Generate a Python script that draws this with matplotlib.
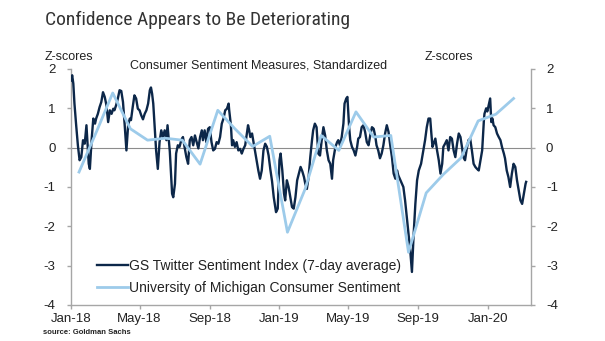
import matplotlib
matplotlib.use("Agg")
import matplotlib.pyplot as plt
import matplotlib.dates as mdates
from matplotlib import font_manager
import numpy as np
import pandas as pd

START = pd.Timestamp("2018-01-01")

# GS Twitter sentiment (7-day avg), z-scores, keyed by days since START
twitter_day = [
    0, 2, 4, 6, 9, 12, 15, 18, 21, 24, 27, 29, 31, 33, 36, 39, 42, 44, 47, 50,
    53, 56, 59, 62, 65, 68, 71, 74, 76, 79, 82, 85, 88, 91, 94, 97, 100, 103, 105, 108,
    111, 114, 117, 120, 123, 126, 129, 132, 135, 138, 140, 142, 144, 146, 149, 152, 155, 158, 161, 164,
    167, 169, 173, 175, 177, 179, 182, 184, 187, 190, 193, 196, 199, 202, 205, 208, 211, 214, 217, 220,
    223, 226, 229, 231, 234, 237, 240, 243, 246, 249, 252, 255, 258, 261, 264, 267, 270, 273, 276, 277,
    280, 282, 284, 287, 290, 293, 296, 299, 302, 305, 308, 310, 312, 314, 317, 320, 322, 325, 328, 331,
    334, 337, 340, 343, 346, 349, 352, 355, 359, 362, 365, 367, 370, 373, 375, 378, 381, 384, 387, 390,
    393, 396, 399, 402, 405, 408, 410, 413, 416, 419, 422, 424, 427, 430, 433, 436, 439, 442, 445, 448,
    451, 454, 457, 459, 463, 466, 468, 471, 474, 477, 479, 482, 484, 487, 489, 492, 495, 498, 501, 503,
    506, 509, 512, 515, 518, 521, 524, 527, 530, 533, 535, 538, 541, 544, 547, 550, 553, 556, 559, 562,
    565, 568, 571, 573, 576, 582, 585, 588, 591, 594, 597, 600, 603, 606, 609, 613, 617, 620, 623, 626,
    629, 631, 633, 635, 638, 641, 644, 647, 650, 652, 655, 658, 661, 664, 667, 670, 673, 676, 679, 682,
    685, 687, 690, 693, 696, 699, 702, 705, 708, 711, 714, 717, 720, 723, 724, 727, 729, 732, 734, 736,
    738, 740, 743, 746, 749, 752, 755, 758, 760, 763, 766, 769, 772, 775, 778, 781, 784, 787, 790, 793,
    796, 797,
]
twitter_z = [
    1.71, 1.84, 1.63, 1.12, 0.57, 0.06, -0.32, -0.24, 0.19, 0.10, 0.57, 0.06, -0.41, -0.54, 0.19, 0.74, 0.61, 0.74, 0.86, 1.03,
    1.16, 1.41, 1.29, 1.08, 0.65, 0.95, 0.86, 0.99, 0.95, 1.08, 1.25, 1.46, 1.44, 1.16, 0.57, -0.07, 0.57, 0.74, 0.70, 1.03,
    1.33, 1.25, 0.99, 0.95, 0.82, 0.72, 0.86, 0.95, 1.12, 1.46, 1.53, 1.37, 1.12, 0.65, -0.07, -0.54, 0.14, 0.44, 0.27, 0.44,
    0.19, 0.57, -0.10, -0.66, -1.17, -1.26, -0.92, -0.15, 0.06, 0.02, 0.19, 0.27, 0.00, -0.24, -0.41, 0.19, 0.27, 0.06, 0.31, 0.14,
    -0.02, 0.27, 0.44, 0.19, 0.44, 0.14, 0.48, 0.52, 0.14, -0.07, -0.03, 0.14, 0.10, 0.27, 0.61, 0.74, 0.95, 0.99, 1.12, 0.95,
    0.57, 0.06, 0.19, 0.02, 0.14, -0.07, -0.03, -0.15, -0.03, 0.06, 0.36, 0.57, 0.44, 0.27, 0.36, 0.10, -0.07, -0.32, -0.58, -0.79,
    -0.58, -0.07, 0.10, 0.02, -0.20, -0.55, -0.85, -1.26, -1.64, -1.55, -0.32, -0.15, -0.58, -1.17, -1.34, -0.83, -1.00, -1.26, -1.51, -1.55,
    -1.26, -0.83, -0.66, -0.49, -0.60, -0.75, -0.90, -1.05, -0.75, -0.24, 0.19, 0.44, 0.61, 0.52, -0.15, -0.20, 0.19, 0.52, 0.31, -0.07,
    -0.32, -0.41, -0.79, -0.32, 0.02, 0.14, 0.19, 0.06, 0.27, 0.61, 1.12, 1.25, 1.29, 0.52, 0.19, 0.02, -0.07, -0.20, 0.02, 0.23,
    0.27, 0.52, 0.57, 0.40, 0.14, 0.06, 0.31, 0.52, 0.48, 0.27, 0.06, -0.07, -0.27, -0.15, 0.06, 0.36, 0.57, 0.40, 0.06, -0.24,
    -0.66, -0.79, -0.58, -0.70, -0.80, -1.00, -1.34, -1.77, -2.19, -2.61, -3.16, -2.20, -1.43, -0.83, -0.58, -0.41, -0.07, 0.19, 0.52, 0.74,
    0.74, 0.36, 0.02, 0.10, 0.23, -0.07, -0.32, -0.66, -0.41, 0.02, 0.10, 0.19, -0.07, 0.27, 0.23, -0.07, -0.24, 0.10, 0.36, 0.27,
    -0.02, -0.24, -0.32, -0.03, 0.19, 0.23, -0.07, -0.41, -0.49, -0.54, -0.58, -0.32, -0.07, 0.69, 0.86, 1.00, 0.92, 1.12, 1.25, 0.65,
    0.74, 0.57, 0.52, 0.36, 0.27, 0.19, 0.00, -0.15, -0.27, -0.58, -0.75, -1.00, -0.66, -0.41, -0.49, -0.83, -1.09, -1.34, -1.43, -1.17,
    -0.92, -0.87,
]

# University of Michigan consumer sentiment, monthly z-scores (Jan-18 .. Feb-20)
umich_month = pd.date_range("2018-01-01", "2020-02-01", freq="MS")
umich_z = [
    -0.62, 0.42, 1.39, 0.48, 0.19, 0.24, 0.19, -0.42, 0.95, 0.48, 0.03, 0.29,
    -2.15, -1.05, 0.31, -0.07, 0.91, 0.27, 0.31, -2.66, -1.15, -0.68, -0.26, 0.68,
    0.85, 1.25,
]

tick_months = pd.date_range("2018-01-01", "2020-01-01", freq="4MS")
y_ticks = [-4, -3, -2, -1, 0, 1, 2]

DARK = "#0c2749"
LIGHT = "#9dcbea"
GREY = "#a6a6a6"
TXT = "#222222"

plt.rcParams["font.family"] = ["Liberation Sans", "DejaVu Sans"]
plt.rcParams["axes.unicode_minus"] = False


def narrow_title_font():
    """Use a condensed face for the headline if one is installed."""
    for fam in ["Liberation Sans Narrow", "Roboto Condensed", "Open Sans Condensed"]:
        try:
            font_manager.findfont(fam, fallback_to_default=False)
            return [fam, "DejaVu Sans"], 14
        except ValueError:
            continue
    return ["Liberation Sans", "DejaVu Sans"], 12.5


fig = plt.figure(figsize=(6.05, 3.41), dpi=100)
ax = fig.add_axes([0.1174, 0.1056, 0.7598, 0.6921])

tw_dates = START + pd.to_timedelta(twitter_day, unit="D")
um_dates = umich_month + pd.Timedelta(days=14)

ax.axhline(0, color="#8c8c8c", lw=0.8, zorder=1)
ax.plot(tw_dates, twitter_z, color=DARK, lw=1.7, zorder=3,
        label="GS Twitter Sentiment Index (7-day average)")
ax.plot(um_dates, umich_z, color=LIGHT, lw=2.0, zorder=4,
        label="University of Michigan Consumer Sentiment")

ax.set_xlim(START, START + pd.Timedelta(days=805))
ax.set_ylim(-4, 2)
ax.set_xticks(tick_months)
ax.xaxis.set_major_formatter(mdates.DateFormatter("%b-%y"))
ax.set_yticks(y_ticks)

for side in ["left", "right", "bottom"]:
    ax.spines[side].set_color(GREY)
    ax.spines[side].set_linewidth(1.0)
ax.spines["top"].set_visible(False)

ax.tick_params(axis="both", direction="out", length=3, width=1, color=GREY,
               labelsize=9.5, labelcolor=TXT)
ax.tick_params(axis="y", pad=8)
ax.tick_params(axis="y", which="both", right=True, labelright=True)
ax.tick_params(axis="x", pad=3)

leg = ax.legend(loc="lower left", bbox_to_anchor=(0.045, 0.02), frameon=False,
                fontsize=10, handlelength=2.2, handletextpad=0.05,
                labelspacing=0.55, borderaxespad=0)
for t in leg.get_texts():
    t.set_color(TXT)

title_family, title_size = narrow_title_font()
fig.text(45 / 605, 1 - 20 / 341, "Confidence Appears to Be Deteriorating",
         fontsize=title_size, color="#333333", va="center", ha="left",
         family=title_family)
fig.text(259 / 605, 1 - 65 / 341, "Consumer Sentiment Measures, Standardized",
         fontsize=9, color=TXT, ha="center", va="center")
fig.text(45 / 605, 1 - 57 / 341, "Z-scores", fontsize=9, color=TXT,
         ha="left", va="center")
fig.text(473 / 605, 1 - 57 / 341, "Z-scores", fontsize=9, color=TXT,
         ha="right", va="center")
fig.text(43 / 605, 1 - 336 / 341, "source: Goldman Sachs", fontsize=5.5,
         color=TXT, fontweight="bold", ha="left", va="bottom")

fig.savefig("out.png", dpi=100)
